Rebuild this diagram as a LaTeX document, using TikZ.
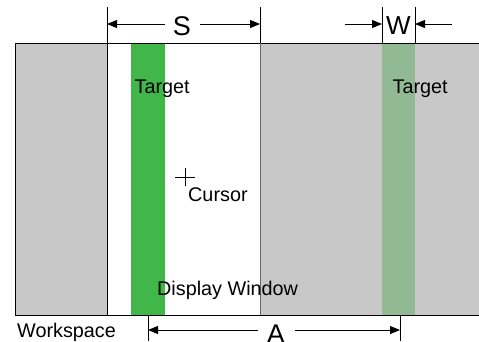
\documentclass[tikz,border=0pt]{standalone}
\usepackage{fontspec}
\setmainfont{Liberation Sans}
\usetikzlibrary{arrows.meta}
\definecolor{wsgray}{RGB}{200,200,200}
\definecolor{tgtgreen}{RGB}{65,182,73}
\definecolor{tgtfaded}{RGB}{146,186,146}
\tikzset{
  lbl/.style={inner sep=0pt, font=\fontsize{19.8}{19.8}\selectfont, anchor=base west},
  biglbl/.style={inner sep=0pt, font=\fontsize{27}{27}\selectfont, anchor=base},
  dimline/.style={line width=0.9pt, -{Triangle[length=10pt,width=8pt]}},
  tick/.style={line width=0.9pt},
  edge/.style={line width=1pt}
}
\begin{document}
\begin{tikzpicture}[x=1pt,y=-1pt]
\useasboundingbox (0,0) rectangle (479,341);
% workspace strip and display window
\fill[wsgray] (15,43) rectangle (479,315);
\fill[white] (107,43) rectangle (260,315);
\fill[tgtgreen] (131,43) rectangle (165,315);
\fill[tgtfaded] (382,43) rectangle (415,315);
\draw[edge] (479,43) -- (15,43) -- (15,315) -- (479,315);
\draw[edge] (107,43) -- (107,315);
\draw[edge, black!60] (260,43) -- (260,315);

% dimension S
\coordinate (s1) at (107,7); \coordinate (s1b) at (107,43);
\coordinate (s2) at (260,7); \coordinate (s2b) at (260,43);
\draw[tick] (s1) -- (s1b);
\draw[tick] (s2) -- (s2b);
\node[biglbl] (S) at (182,35) {S};
\coordinate (sl) at (165,24); \coordinate (sr) at (200,24);
\draw[dimline] (sl) -- (107,24);
\draw[dimline] (sr) -- (260,24);

% dimension W
\draw[tick] (382,7) -- (382,43);
\draw[tick] (415,7) -- (415,43);
\node[biglbl, font=\fontsize{26}{26}\selectfont] (W) at (398.5,34) {W};
\coordinate (wl) at (345,24); \coordinate (wr) at (452,24);
\draw[dimline] (wl) -- (382,24);
\draw[dimline] (wr) -- (415,24);

% dimension A
\draw[tick] (148,315) -- (148,341);
\draw[tick] (400,315) -- (400,341);
\node[biglbl] (A) at (276,343) {A};
\coordinate (al) at (258,330); \coordinate (ar) at (295,330);
\draw[dimline] (al) -- (148,330);
\draw[dimline] (ar) -- (400,330);

% labels
\node[lbl] (t1) at (134.5,93) {Target};
\node[lbl] (t2) at (392.5,93) {Target};
\node[lbl] (cur) at (188,201) {Cursor};
\node[lbl] (dw) at (157,295) {Display Window};
\node[lbl] (ws) at (17,337) {Workspace};

% cursor cross
\coordinate (c) at (185,177);
\draw[line width=0.8pt] ([xshift=-10pt]c) -- ([xshift=10pt]c);
\draw[line width=0.8pt] ([yshift=-9pt]c) -- ([yshift=9pt]c);
\end{tikzpicture}
\end{document}
